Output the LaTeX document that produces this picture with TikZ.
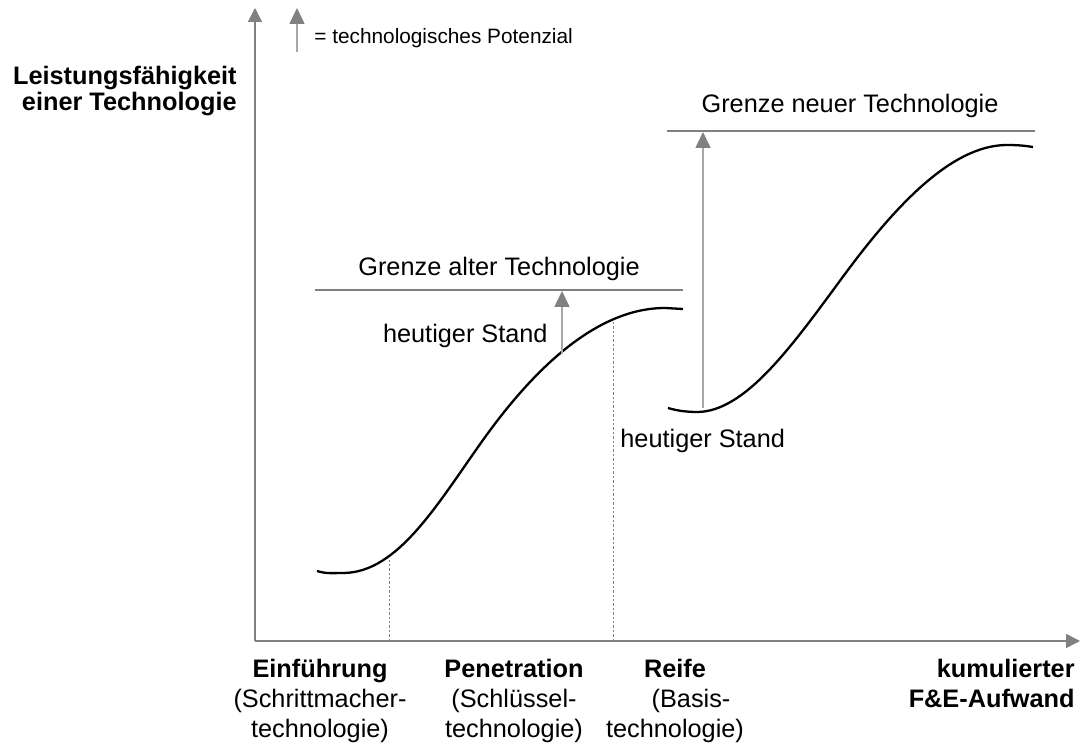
\documentclass[tikz,border=0pt]{standalone}
\usepackage{fontspec}
\setmainfont{Liberation Sans}
\usepackage{tikz}
\usetikzlibrary{arrows.meta,positioning}
\definecolor{axisgray}{HTML}{808080}
\definecolor{potgray}{HTML}{A8A8A8}
\tikzstyle{axis}=[draw=axisgray,line width=0.8pt,-{Triangle[width=7pt,length=7pt]}]
\tikzstyle{limit}=[draw=axisgray,line width=1.2pt]
\tikzstyle{scurve}=[draw=black,line width=1.15pt]
\tikzstyle{pot}=[draw=potgray,line width=0.8pt,-{Triangle[width=7.5pt,length=8pt,color=axisgray]}]
\tikzstyle{phaseline}=[draw=axisgray,line width=0.4pt,dash pattern=on 1.2pt off 1pt]
\tikzstyle{txt}=[font=\fontsize{12.65}{15}\selectfont,inner sep=0pt]
\tikzstyle{btxt}=[txt,font=\fontsize{12.65}{13}\selectfont\bfseries]

\begin{document}
\begin{tikzpicture}[x=0.5pt,y=-0.5pt]
        \useasboundingbox (0,0) rectangle (1083,747);
        % axes
        \coordinate (O) at (255,641);
        \coordinate (ytip) at (255,8);
        \coordinate (xtip) at (1080,641);
        \draw[axis] (O) -- (ytip);
        \draw[axis] (O) -- (xtip);
        \node (ylab) [btxt, anchor=north east, align=right] at (237,66) {Leistungsfähigkeit\\einer Technologie};
        \node (xlab) [btxt, font=\fontsize{12.65}{15}\selectfont\bfseries, anchor=north east, align=right] at (1075,659) {kumulierter\\F\&E-Aufwand};

        % legend
        \coordinate (legA) at (297,52);
        \coordinate (legB) at (297,8);
        \draw[pot] (legA) -- (legB);
        \node (leg) [txt, font=\fontsize{10.4}{12}\selectfont, anchor=base west] at (314,44) {= technologisches Potenzial};

        % limits
        \coordinate (oldL) at (315,290);
        \coordinate (oldR) at (683,290);
        \coordinate (newL) at (667,131);
        \coordinate (newR) at (1035,131);
        \draw[limit] (oldL) -- (oldR);
        \draw[limit] (newL) -- (newR);
        \node (oldlim) [txt, anchor=base] at (499,276) {Grenze alter Technologie};
        \node (newlim) [txt, anchor=base] at (850,113) {Grenze neuer Technologie};

        % s-curves
        \draw[scurve] (317,571) .. controls (326,574) and (334,573) .. (343,573)
                .. controls (398,573) and (438,503) .. (483,440)
                .. controls (538,363) and (600,308) .. (665,308) -- (683,309);
        \draw[scurve] (668,408) .. controls (678,411) and (688,412) .. (697,412)
                .. controls (745,412) and (792,346) .. (842,278)
                .. controls (892,210) and (950,145) .. (1007,145)
                .. controls (1020,145) and (1026,146) .. (1033,147);

        % potential
        \coordinate (nowOld) at (562,354);
        \coordinate (topOld) at (562,291);
        \coordinate (nowNew) at (703,408);
        \coordinate (topNew) at (703,132);
        \draw[pot] (nowOld) -- (topOld);
        \draw[pot] (nowNew) -- (topNew);
        \node (stOld) [txt, anchor=base east] at (548,343) {heutiger Stand};
        \node (stNew) [txt, anchor=base west] at (620,448) {heutiger Stand};

        % phases
        \coordinate (p1) at (389,641);
        \coordinate (c1) at (389,560);
        \coordinate (p2) at (613,641);
        \coordinate (c2) at (613,320);
        \draw[phaseline] (p1) -- (c1);
        \draw[phaseline] (p2) -- (c2);
        \node (einf) [txt, anchor=north, align=center] at (320,659) {\textbf{Einführung}\\(Schrittmacher-\\technologie)};
        \node (pene) [txt, anchor=north, align=center] at (514,659) {\textbf{Penetration}\\(Schlüssel-\\technologie)};
        \node (reife) [txt, anchor=north, align=center] at (675,659) {\textbf{Reife}\\\hspace*{16pt}(Basis-\\technologie)};
\end{tikzpicture}
\end{document}
